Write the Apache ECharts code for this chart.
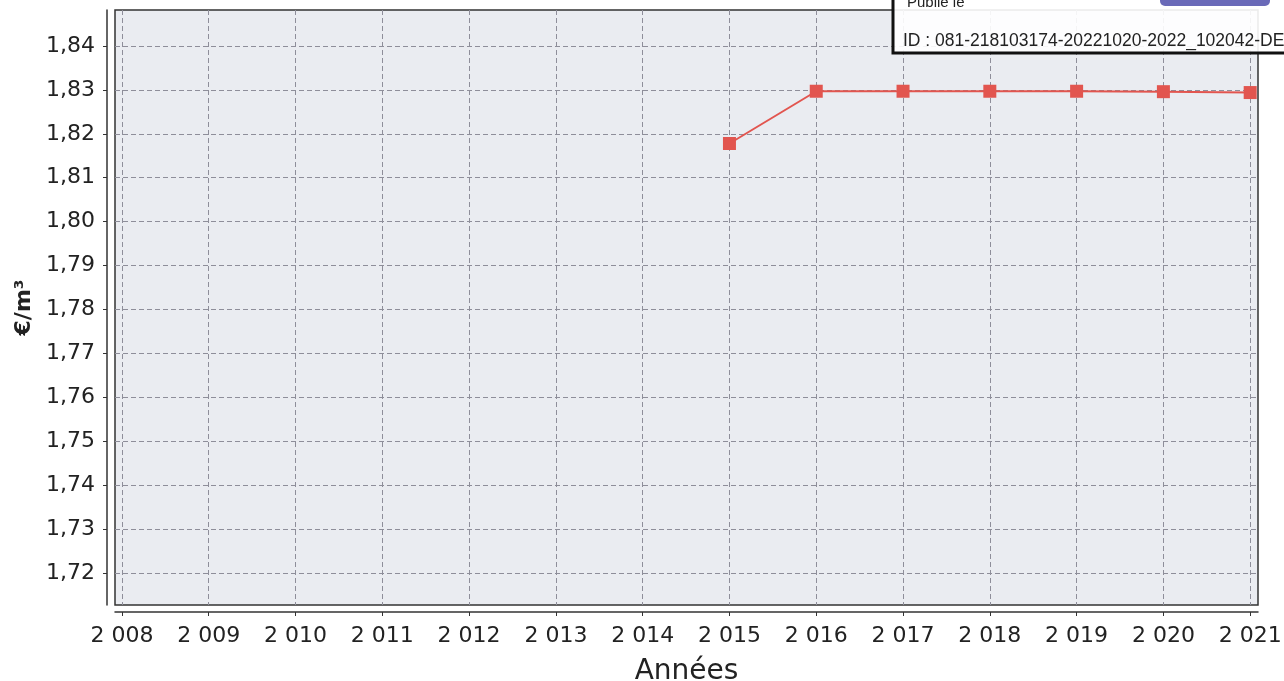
<!DOCTYPE html>
<html>
<head>
<meta charset="utf-8">
<script src="https://cdn.jsdelivr.net/npm/echarts@6/dist/echarts.min.js"></script>
<style>
  html, body { margin: 0; padding: 0; background: #fff; }
  #chart { width: 1284px; height: 681px; }
</style>
</head>
<body>
<div id="chart"></div>
<script>
// data
const years = [2015, 2016, 2017, 2018, 2019, 2020, 2021];
const prix = [1.8178, 1.8297, 1.8297, 1.8297, 1.8297, 1.8296, 1.8294];
const xTicks = [2008, 2009, 2010, 2011, 2012, 2013, 2014, 2015, 2016, 2017, 2018, 2019, 2020, 2021];
const yTicks = [1.72, 1.73, 1.74, 1.75, 1.76, 1.77, 1.78, 1.79, 1.80, 1.81, 1.82, 1.83, 1.84];

const myChart = echarts.init(document.getElementById('chart'));

const gridLine = { show: true, lineStyle: { color: '#8e8e9a', type: [5, 3], width: 1 } };

let option = {
  backgroundColor: '#ffffff',
  animation: false,
  textStyle: { fontFamily: 'DejaVu Sans' },
  grid: {
    left: 115, right: 26, top: 10, bottom: 76,
    outerBoundsMode: 'none',
    containLabel: false,
    show: true,
    backgroundColor: '#eaecf1',
    borderColor: '#333',
    borderWidth: 1.5
  },
  xAxis: {
    type: 'value',
    min: 2007.92,
    max: 2021.09,
    offset: 7,
    name: 'Années',
    nameLocation: 'middle',
    nameGap: 46,
    nameTextStyle: { fontSize: 28, color: '#222', fontFamily: 'DejaVu Sans' },
    axisLine: { show: true, lineStyle: { color: '#333', width: 1.5 } },
    axisTick: { show: true, length: 4, customValues: xTicks, lineStyle: { color: '#333' } },
    axisLabel: {
      customValues: xTicks,
      color: '#222',
      fontSize: 22,
      margin: 13,
      formatter: function (v) {
        let s = String(Math.round(v));
        return s[0] + ' ' + s.slice(1);
      }
    },
    splitLine: gridLine
  },
  yAxis: {
    type: 'value',
    min: 1.7127,
    max: 1.8482,
    offset: 8,
    name: '€/m³',
    nameLocation: 'middle',
    nameGap: 70,
    nameRotate: 90,
    nameTextStyle: { fontSize: 22, fontWeight: 'bold', color: '#222', fontFamily: 'DejaVu Sans' },
    axisLine: { show: true, lineStyle: { color: '#333', width: 1.5 } },
    axisTick: { show: true, length: 4, customValues: yTicks, lineStyle: { color: '#333' } },
    axisLabel: {
      customValues: yTicks,
      color: '#222',
      fontSize: 22,
      margin: 12,
      formatter: function (v) {
        return v.toFixed(2).replace('.', ',');
      }
    },
    splitLine: gridLine
  },
  series: [
    {
      type: 'line',
      data: years.map((y, i) => [y, prix[i]]),
      symbol: 'rect',
      symbolSize: 13,
      itemStyle: { color: '#e2554f' },
      lineStyle: { color: '#e2554f', width: 2 }
    }
  ],
  graphic: [
    {
      type: 'rect',
      shape: { x: 893, y: -5, width: 400, height: 58 },
      style: { fill: 'rgba(255,255,255,0.9)', stroke: '#111', lineWidth: 3 },
      z: 101
    },
    {
      type: 'rect',
      shape: { x: 1160, y: -10, width: 110, height: 16, r: 5 },
      style: { fill: '#6a6ab8' },
      z: 103
    },
    {
      type: 'text',
      x: 907, y: -5,
      style: { text: 'Publié le', fontSize: 15, fontFamily: 'Liberation Sans', fill: '#222' },
      z: 102
    },
    {
      type: 'text',
      x: 903, y: 32,
      style: { text: 'ID : 081-218103174-20221020-2022_102042-DE', fontSize: 17.5, fontFamily: 'Liberation Sans', fill: '#222' },
      z: 102
    }
  ]
};

myChart.setOption(option);
</script>
</body>
</html>
